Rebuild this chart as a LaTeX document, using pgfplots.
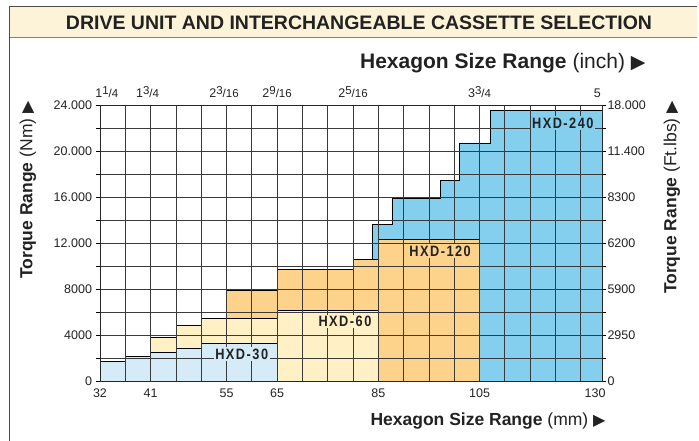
\documentclass[border=0pt]{standalone}
\usepackage{fontspec}
\setmainfont{Liberation Sans}
\newfontfamily\sym{DejaVu Sans}
\newfontfamily\hxd[FakeStretch=0.85,LetterSpace=10]{Liberation Sans}
\usepackage{pgfplots}
\pgfplotsset{compat=1.18}

\definecolor{c30}{HTML}{D5EBF8}
\definecolor{c60}{HTML}{FFF0C6}
\definecolor{c120}{HTML}{FDD38C}
\definecolor{c240}{HTML}{84CFEE}
\definecolor{banner}{HTML}{FDF3D9}
\definecolor{gridc}{HTML}{3A3A3A}
\definecolor{txt}{HTML}{222222}

\newcommand{\fr}[3]{#1{\fontsize{11.5}{11.5}\selectfont\raisebox{0.5ex}{#2}/#3}}
\newcommand{\tri}[1]{{\sym\fontsize{#1}{#1}\selectfont ▶}}

\begin{document}
\begin{tikzpicture}[x=1pt,y=1pt]
\useasboundingbox (0,0) rectangle (699,441);
% banner and frame
\fill[banner] (9,403) rectangle (697,434);
\draw[black!70, line width=1pt] (9,434) -- (697,434);
\draw[black!50, line width=1pt] (9,403) -- (697,403);
\draw[black!70, line width=1pt] (9,434) -- (9,0);
\node[font=\fontsize{19.5}{20}\selectfont\bfseries, text=txt] at (359,418.5) {DRIVE UNIT AND INTERCHANGEABLE CASSETTE SELECTION};

\begin{axis}[at={(100pt,60pt)}, anchor=south west, scale only axis,
  width=502pt, height=276pt,
  xmin=0, xmax=19.84, ymin=0, ymax=24000,
  scaled y ticks=false, scaled x ticks=false,
  axis on top,
  xtick={0,...,19},
  xticklabels={32,,41,,,55,,65,,,,85,,,,105,,,,},
  extra x ticks={19.57},
  extra x tick labels={130},
  extra x tick style={grid=none},
  ytick={0,2000,...,24000},
  yticklabels={0,,4000,,8000,,12.000,,16.000,,20.000,,24.000},
  grid=major,
  major grid style={gridc, line width=0.8pt},
  axis line style={black!85, line width=0.9pt},
  tick align=outside, major tick length=3.5pt,
  xtick style={draw=none},
  ytick style={black, line width=0.6pt},
  ticklabel style={font=\fontsize{12.5}{12.5}\selectfont, text=txt},
  xticklabel style={yshift=-1pt},
  yticklabel style={xshift=-1pt},
]
\addplot[fill=c240, draw=black, line width=0.8pt, const plot]
  coordinates {(10.75,13650) (11.54,15900) (13.46,17400) (14.2,20700) (15.44,23500) (19.84,23500)} \closedcycle;
\addplot[fill=c120, draw=black, line width=0.8pt, const plot]
  coordinates {(5,7900) (7,9700) (10,10600) (11,12300) (15,12300)} \closedcycle;
\addplot[fill=c60, draw=black, line width=0.8pt, const plot]
  coordinates {(2,3750) (3,4850) (4,5400) (7,6100) (11,6100)} \closedcycle;
\addplot[fill=c30, draw=black, line width=0.8pt, const plot]
  coordinates {(0,1700) (1,2100) (2,2500) (3,2850) (4,3300) (7,3300)} \closedcycle;
\coordinate (L30) at (axis cs:5.6,2320);
\coordinate (L60) at (axis cs:9.68,5160);
\coordinate (L120) at (axis cs:13.44,11300);
\coordinate (L240) at (axis cs:18.29,22410);
\end{axis}

\begin{axis}[at={(100pt,60pt)}, anchor=south west, scale only axis,
  width=502pt, height=276pt,
  xmin=0, xmax=19.84, ymin=0, ymax=24000,
  scaled y ticks=false, scaled x ticks=false,
  axis x line*=top, axis y line*=right,
  axis line style={draw=none},
  tick style={draw=none},
  xtick={0.27,1.88,4.9,7,10,15,19.66},
  xticklabels={\fr{1}{1}{4},\fr{1}{3}{4},\fr{2}{3}{16},\fr{2}{9}{16},\fr{2}{5}{16},\fr{3}{3}{4},5},
  ytick={0,4000,...,24000},
  yticklabels={0,2950,5900,6200,8300,11.400,18.000},
  ticklabel style={font=\fontsize{12.5}{12.5}\selectfont, text=txt},
  yticklabel style={anchor=west, xshift=2pt},
  xticklabel style={yshift=4pt},
]
\end{axis}

\tikzset{hx/.style={font=\hxd\fontsize{15}{15}\selectfont\bfseries, text=txt, inner sep=1.5pt}}
\node[hx, fill=c30] at (L30) {HXD-30};
\node[hx, fill=c60] at (L60) {HXD-60};
\node[hx, fill=c120] at (L120) {HXD-120};
\node[hx, fill=c240] at (L240) {HXD-240};

% axis titles
\node[anchor=east, text=txt, font=\fontsize{21}{21}\selectfont] at (649,378) {\textbf{Hexagon Size Range} (inch) \tri{19}};
\node[anchor=east, text=txt, font=\fontsize{17.5}{18}\selectfont] at (609,20) {\textbf{Hexagon Size Range} (mm) \tri{16}};
\node[rotate=90, text=txt, font=\fontsize{17.5}{18}\selectfont] at (28,251) {\textbf{Torque Range} (Nm) \tri{16}};
\node[rotate=90, text=txt, font=\fontsize{17.5}{18}\selectfont] at (672,243.5) {\textbf{Torque Range} (Ft.lbs) \tri{16}};
\end{tikzpicture}
\end{document}
